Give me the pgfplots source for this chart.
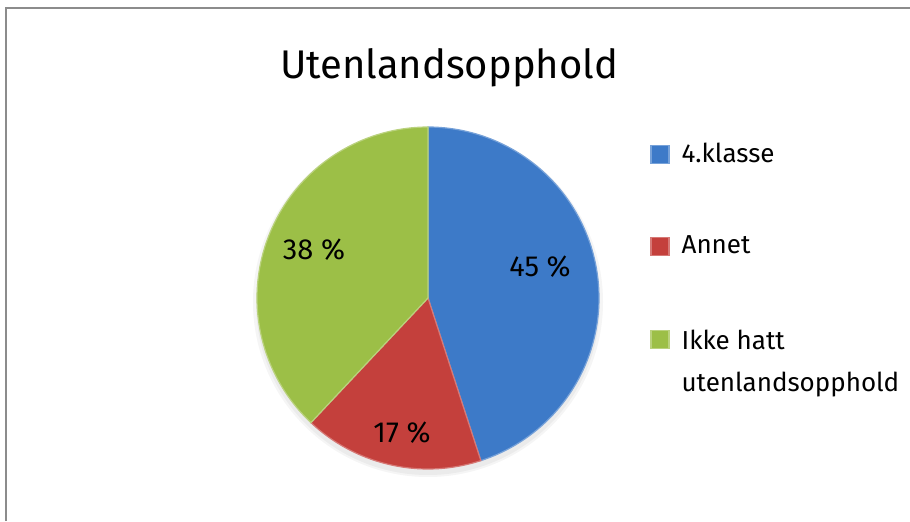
\documentclass[border=0pt]{standalone}
\usepackage{pgfplots}
\pgfplotsset{compat=1.18}
\usepackage{fontspec}
\setmainfont{Fira Sans}
\definecolor{cblue}{HTML}{3D7AC8}
\definecolor{cred}{HTML}{C4403C}
\definecolor{cgreen}{HTML}{9CBF47}
\definecolor{frame}{HTML}{8C8C8C}
% shares in percent
\def\vA{45}\def\vB{17}\def\vC{38}
\pgfmathsetmacro\aA{90}
\pgfmathsetmacro\aB{90-3.6*\vA}
\pgfmathsetmacro\aC{\aB-3.6*\vB}
\pgfmathsetmacro\aD{\aC-3.6*\vC}
\begin{document}
\begin{tikzpicture}
\begin{axis}[
  width=455pt, height=260.5pt, scale only axis, hide axis,
  xmin=0, xmax=910, ymin=0, ymax=521, clip=false,
  legend cell align=left,
  legend style={at={(axis cs:650,382)}, anchor=north west, draw=none, fill=none,
    row sep=31pt, column sep=4pt, font=\fontsize{13}{16}\selectfont, inner sep=0pt},
  legend image code/.code={\fill[#1] (0pt,-4.5pt) rectangle (9pt,4.5pt);},
]
\draw[frame, line width=1pt] (axis cs:6,0) -- (axis cs:6,513) -- (axis cs:910,513);
% soft shadow
\fill[black, opacity=0.04] (axis cs:428,218) circle[radius=86pt];
\fill[black, opacity=0.04] (axis cs:428,219) circle[radius=87.5pt];
\fill[white] (axis cs:428,223) circle[radius=85.5pt];
\addplot[fill=cblue, draw=cblue!70!white, line width=0.6pt, domain=\aB:\aA, samples=90]
  ({428+171*cos(x)},{223+171*sin(x)}) -- (axis cs:428,223) -- cycle;
\addlegendentry{4.klasse}
\addplot[fill=cred, draw=cred!70!white, line width=0.6pt, domain=\aC:\aB, samples=40]
  ({428+171*cos(x)},{223+171*sin(x)}) -- (axis cs:428,223) -- cycle;
\addlegendentry{Annet}
\addplot[fill=cgreen, draw=cgreen!70!white, line width=0.6pt, domain=\aD:\aC, samples=80]
  ({428+171*cos(x)},{223+171*sin(x)}) -- (axis cs:428,223) -- cycle;
\addlegendentry{\begin{tabular}[t]{@{}l@{}}Ikke hatt\\[5pt]utenlandsopphold\end{tabular}}
\node[anchor=base, font=\fontsize{20}{24}\selectfont] at (axis cs:449,443) {Utenlandsopphold};
\node[font=\fontsize{14.5}{17}\selectfont] at (axis cs:540,254) {45~\%};
\node[font=\fontsize{14.5}{17}\selectfont] at (axis cs:402,88) {17~\%};
\node[font=\fontsize{14.5}{17}\selectfont] at (axis cs:314,271) {38~\%};
\end{axis}
\pgfresetboundingbox
\path (current axis.south west) rectangle (current axis.north east);
\end{tikzpicture}
\end{document}
